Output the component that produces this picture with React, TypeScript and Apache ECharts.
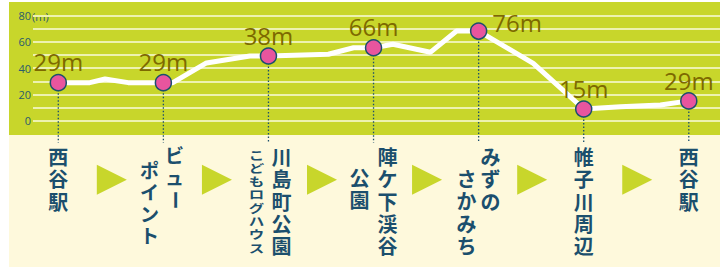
import React, { useEffect, useRef } from "react";
import * as echarts from "echarts";

// ---- data ----
const stationX = [0, 1, 2, 3, 4, 5, 6];
const stationY = [29.0, 29.0, 49.3, 55.6, 68.3, 8.9, 15.1];
const elevLabels = ["29m", "29m", "38m", "66m", "76m", "15m", "29m"];
const stationNames: string[][] = [
  ["西谷駅"],
  ["ビュー", "ポイント"],
  ["川島町公園", "こどもログハウス"],
  ["陣ケ下渓谷", "公園"],
  ["みずの", "さかみち"],
  ["帷子川周辺"],
  ["西谷駅"],
];
const profileX = [0, 0.3, 0.445, 0.665, 1, 1.09, 1.41, 1.823, 2, 2.57, 2.81, 3, 3.185, 3.54, 3.79, 4, 4.52, 5, 5.35, 5.73, 6];
const profileY = [29.0, 29.0, 31.8, 29.0, 29.0, 29.0, 44.0, 49.3, 49.3, 50.6, 55.6, 55.6, 58.2, 52.1, 68.3, 68.3, 43.7, 8.9, 10.7, 12.0, 15.1];
const yLabelValues = [0, 20, 40, 60, 80];

// ---- layout / style (not data) ----
const GREEN = "#c8d62b";
const YELLOW = "#fef9dc";
const GRIDLINE = "#edf2b0";
const BLUE = "#1b4f6d";
const OLIVE = "#7d6900";
const PINK = "#e8559e";
const JP_FONT = '"Liberation Sans", "Noto Sans CJK JP", sans-serif';

const colLayout = [
  [{ dx: 0, dy: 37, size: 20, step: 22.4, sx: 1 }],
  [{ dx: 11, dy: 36, size: 19, step: 21.7, sx: 1 }, { dx: -14, dy: 51, size: 19, step: 21.7, sx: 1 }],
  [{ dx: 13, dy: 37, size: 20, step: 22.4, sx: 1 }, { dx: -12, dy: 35, size: 11.9, step: 13.3, sx: 1.3 }],
  [{ dx: 14, dy: 37, size: 20, step: 22.4, sx: 1 }, { dx: -14, dy: 58, size: 20, step: 22.4, sx: 1 }],
  [{ dx: 12, dy: 37, size: 20, step: 22.4, sx: 1 }, { dx: -12, dy: 59, size: 20, step: 22.4, sx: 1 }],
  [{ dx: 0, dy: 37, size: 20, step: 22.4, sx: 1 }],
  [{ dx: 0, dy: 37, size: 20, step: 22.4, sx: 1 }],
];

export default function App() {
  const ref = useRef<HTMLDivElement>(null);

  useEffect(() => {
    if (!ref.current) return;
    const chart = echarts.init(ref.current, null, { renderer: "svg" });

    const option: any = {
      animation: false,
      backgroundColor: "transparent",
      grid: { left: 33, right: 5, top: 15.7, bottom: 151.3 },
      xAxis: { type: "value", min: -0.2407, max: 6.297, show: false },
      yAxis: {
        type: "value",
        min: 0,
        max: 80,
        interval: 10,
        axisLine: { show: false },
        axisTick: { show: false },
        splitLine: { show: true, lineStyle: { color: GRIDLINE, width: 2 } },
        axisLabel: {
          margin: 2,
          color: "#2b5b6b",
          fontSize: 11,
          fontFamily: "Open Sans",
          formatter: (v: number) => (yLabelValues.indexOf(v) >= 0 ? String(v) : ""),
        },
      },
      graphic: [
        {
          type: "group",
          z: 10,
          children: [
            { type: "rect", shape: { x: 31, y: 9, width: 17, height: 13 }, style: { fill: GREEN } },
            {
              type: "text",
              x: 32,
              y: 16,
              style: {
                text: "(m)",
                fill: "#2b5b6b",
                fontSize: 11,
                fontFamily: "Open Sans",
                verticalAlign: "middle",
                align: "left",
              },
            },
          ],
        },
      ],
      series: [
        {
          type: "custom",
          z: 1,
          silent: true,
          clip: false,
          coordinateSystem: "cartesian2d",
          encode: { x: 0, y: 1 },
          data: stationX.map((x, i) => [x, stationY[i]]),
          renderItem: (params: any, api: any) => {
            const i = params.dataIndex;
            const p = api.coord([stationX[i], stationY[i]]);
            const base = api.coord([stationX[i], 0])[1];
            const children: any[] = [];
            children.push({
              type: "line",
              shape: { x1: p[0], y1: p[1], x2: p[0], y2: base + 22 },
              style: { stroke: BLUE, lineWidth: 1.3, lineDash: [1.5, 2] },
            });
            stationNames[i].forEach((col, c) => {
              const L = colLayout[i][c];
              const chars = Array.from(col);
              let seg: string[] = [];
              let segStart = 0;
              const flush = () => {
                if (!seg.length) return;
                children.push({
                  type: "text",
                  x: p[0] + L.dx,
                  y: base + L.dy + segStart * L.step - L.step / 2,
                  scaleX: L.sx,
                  style: {
                    text: seg.join("\n"),
                    fill: BLUE,
                    fontSize: L.size,
                    lineHeight: L.step,
                    fontWeight: "bold",
                    fontFamily: JP_FONT,
                    align: "center",
                    verticalAlign: "top",
                  },
                });
                seg = [];
              };
              chars.forEach((ch, k) => {
                if (ch === "ー") {
                  flush();
                  children.push({
                    type: "text",
                    x: p[0] + L.dx,
                    y: base + L.dy + k * L.step,
                    rotation: -Math.PI / 2,
                    style: {
                      text: ch,
                      fill: BLUE,
                      fontSize: L.size,
                      fontWeight: "bold",
                      fontFamily: JP_FONT,
                      align: "center",
                      verticalAlign: "middle",
                    },
                  });
                  segStart = k + 1;
                } else {
                  if (!seg.length) segStart = k;
                  seg.push(ch);
                }
              });
              flush();
            });
            if (i < stationX.length - 1) {
              const nx = api.coord([stationX[i + 1], 0])[0];
              const mid = (p[0] + nx) / 2;
              children.push({
                type: "polygon",
                shape: {
                  points: [
                    [mid - 14, base + 44],
                    [mid + 16, base + 59],
                    [mid - 14, base + 74],
                  ],
                },
                style: { fill: GREEN },
              });
            }
            return { type: "group", children };
          },
        },
        {
          type: "line",
          z: 3,
          silent: true,
          symbol: "none",
          data: profileX.map((x, i) => [x, profileY[i]]),
          lineStyle: { color: "#ffffff", width: 5 },
        },
        {
          type: "scatter",
          z: 5,
          silent: true,
          symbol: "circle",
          symbolSize: 16,
          itemStyle: { color: PINK, borderColor: BLUE, borderWidth: 1.5, opacity: 1 },
          label: {
            show: true,
            position: "top",
            distance: 0,
            color: OLIVE,
            fontSize: 24,
            fontFamily: "Open Sans",
            formatter: (p: any) => elevLabels[p.dataIndex],
          },
          data: stationX.map((x, i) =>
            i === 4
              ? { value: [x, stationY[i]], label: { position: "right", distance: 5, offset: [0, -9] } }
              : { value: [x, stationY[i]] }
          ),
        },
      ],
    };

    chart.setOption(option);
    return () => chart.dispose();
  }, []);

  return (
    <div style={{ position: "fixed", left: 0, top: 0, width: 725, height: 272, background: "#ffffff" }}>
      <div style={{ position: "absolute", left: 9, top: 2, width: 711, height: 133, background: GREEN }} />
      <div style={{ position: "absolute", left: 9, top: 135, width: 711, height: 132, background: YELLOW }} />
      <div ref={ref} style={{ position: "absolute", left: 0, top: 0, width: 725, height: 272 }} />
    </div>
  );
}
